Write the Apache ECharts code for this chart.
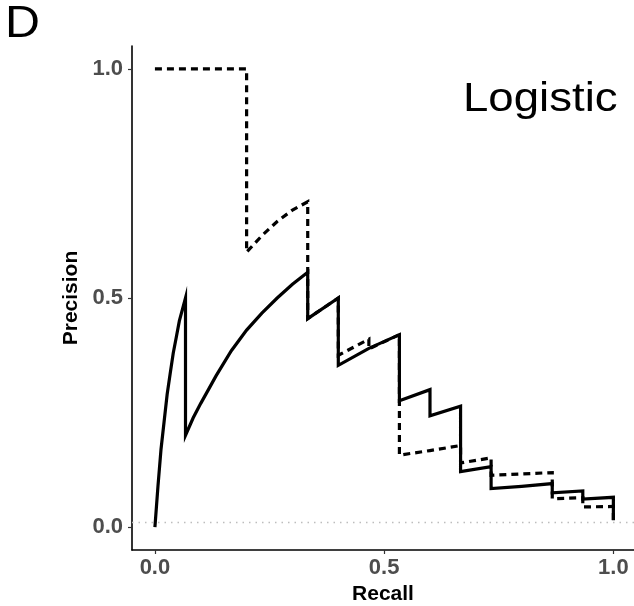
<!DOCTYPE html>
<html>
<head>
<meta charset="utf-8">
<script src="https://cdn.jsdelivr.net/npm/echarts@6/dist/echarts.min.js"></script>
<style>
html,body{margin:0;padding:0;background:#fff;}
#c{width:634px;height:606px;}
</style>
</head>
<body>
<div id="c"></div>
<script>
// Solid curve (Logistic PR curve)
var solidRecall = [0, 0.0067, 0.0133, 0.02, 0.0267, 0.0333, 0.04, 0.0467, 0.0533, 0.06, 0.0667, 0.0667, 0.0833, 0.1, 0.1167, 0.1333, 0.1667, 0.2, 0.2333, 0.2667, 0.3, 0.3333, 0.3333, 0.4, 0.4, 0.4667, 0.5333, 0.5333, 0.6, 0.6, 0.6667, 0.6667, 0.7333, 0.7333, 0.8, 0.8667, 0.8667, 0.9333, 0.9333, 1.0, 1.0];
var solidPrecision = [0, 0.09, 0.17, 0.23, 0.29, 0.335, 0.38, 0.415, 0.45, 0.475, 0.5, 0.2, 0.238, 0.27, 0.3, 0.33, 0.385, 0.43, 0.467, 0.5, 0.53, 0.556, 0.455, 0.5, 0.353, 0.39, 0.42, 0.276, 0.3, 0.243, 0.264, 0.121, 0.132, 0.084, 0.089, 0.095, 0.075, 0.079, 0.061, 0.065, 0.015];
// Dashed curve
var dashedRecall = [0, 0.2, 0.2, 0.2333, 0.2667, 0.3, 0.3333, 0.3333, 0.4, 0.4, 0.4667, 0.4667, 0.5333, 0.5333, 0.6, 0.6667, 0.6667, 0.7333, 0.7333, 0.8667, 0.8667, 0.9333, 0.9333, 1.0, 1.0];
var dashedPrecision = [1, 1, 0.6, 0.636, 0.667, 0.692, 0.71, 0.455, 0.5, 0.375, 0.41, 0.389, 0.42, 0.157, 0.167, 0.178, 0.14, 0.151, 0.113, 0.119, 0.062, 0.064, 0.044, 0.045, 0.015];
// Baseline (dotted)
var baseline = 0.015;
// Tick labels
var xTicks = [0, 0.5, 1.0];
var yTicks = [0, 0.5, 1.0];

function pairs(xs, ys){ return xs.map(function(x,i){ return [x, ys[i]]; }); }

var chart = echarts.init(document.getElementById('c'));
var labelStyle = {color:'#4d4d4d', fontSize:22, fontWeight:'bold', fontFamily:'Liberation Sans, Arial, sans-serif'};
chart.setOption({
  animation:false,
  backgroundColor:'#fff',
  grid:{left:132, right:0, top:46, bottom:56, containLabel:false, outerBoundsMode:'none'},
  xAxis:{
    type:'value', min:-0.05, max:1.045,
    name:'Recall', nameLocation:'middle', nameGap:31,
    nameTextStyle:{color:'#000', fontSize:21, fontWeight:'bold', fontFamily:'Liberation Sans, Arial, sans-serif'},
    axisLine:{show:true, onZero:false, lineStyle:{color:'#000', width:1.6}},
    axisTick:{show:true, customValues:xTicks, length:4, lineStyle:{color:'#333', width:1.2}},
    axisLabel:Object.assign({customValues:xTicks, margin:7, formatter:function(v){return v.toFixed(1);}}, labelStyle),
    splitLine:{show:false}
  },
  yAxis:{
    type:'value', min:-0.05, max:1.05,
    name:'Precision', nameLocation:'middle', nameGap:50, nameRotate:90,
    nameTextStyle:{color:'#000', fontSize:21, fontWeight:'bold', fontFamily:'Liberation Sans, Arial, sans-serif'},
    axisLine:{show:true, onZero:false, lineStyle:{color:'#000', width:1.6}},
    axisTick:{show:true, customValues:yTicks, length:4, lineStyle:{color:'#333', width:1.2}},
    axisLabel:Object.assign({customValues:yTicks, margin:9, formatter:function(v){return v.toFixed(1);}}, labelStyle),
    splitLine:{show:false}
  },
  graphic:[
    {type:'text', x:5, y:3, scaleX:1.1, style:{text:'D', fontSize:44, fill:'#000', fontFamily:'Liberation Sans, Arial, sans-serif'}},
    {type:'text', x:463, y:80, scaleX:1.14, style:{text:'Logistic', fontSize:40, fill:'#000', fontFamily:'Liberation Sans, Arial, sans-serif'}}
  ],
  series:[
    {
      type:'line', name:'baseline', data:[], silent:true,
      markLine:{silent:true, symbol:'none', label:{show:false},
        lineStyle:{color:'#bdbdbd', type:[1.5,5], width:1.3},
        data:[{yAxis:baseline}]}
    },
    {
      type:'line', name:'dashed', data:pairs(dashedRecall, dashedPrecision),
      showSymbol:false, symbol:'none', silent:true,
      lineStyle:{color:'#000', width:3.2, type:[7,5], join:'miter'}
    },
    {
      type:'line', name:'solid', data:pairs(solidRecall, solidPrecision),
      showSymbol:false, symbol:'none', silent:true,
      lineStyle:{color:'#000', width:3.2, join:'miter'}
    }
  ]
});
</script>
</body>
</html>
